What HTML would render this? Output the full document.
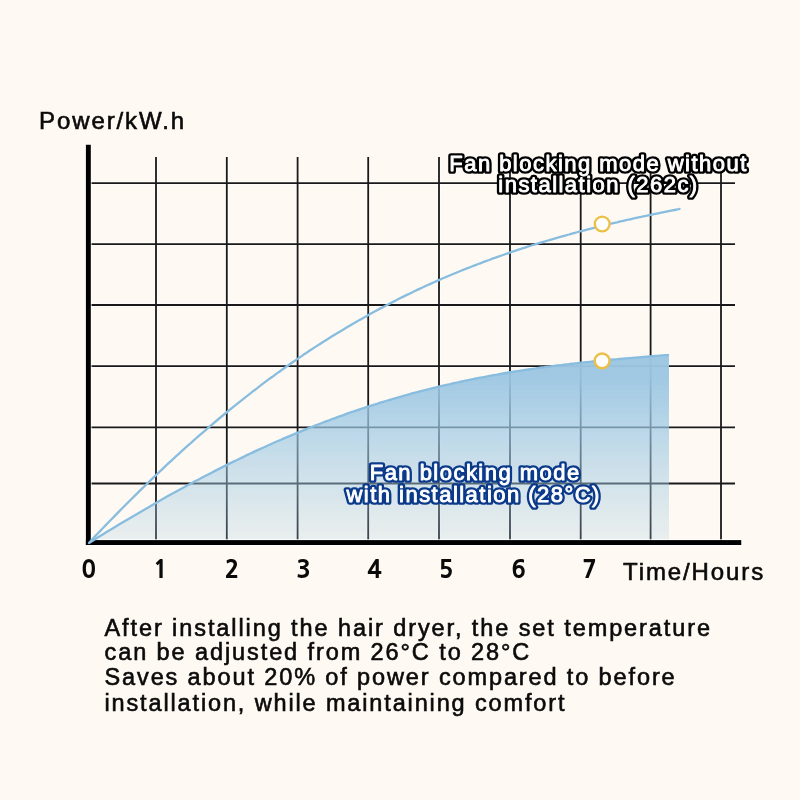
<!DOCTYPE html>
<html><head><meta charset="utf-8">
<style>
html,body{margin:0;padding:0;background:#fef9f2;}
body{width:800px;height:800px;position:relative;overflow:hidden;font-family:"Liberation Sans",Arial,sans-serif;}
svg{position:absolute;left:0;top:0;will-change:transform;}
</style></head>
<body>
<svg width="800" height="800" viewBox="0 0 800 800">
<defs>
<linearGradient id="gf" x1="0" y1="355" x2="0" y2="542" gradientUnits="userSpaceOnUse">
<stop offset="0" stop-color="#9cc6e2" stop-opacity="0.98"/>
<stop offset="0.12" stop-color="#9cc6e2" stop-opacity="0.95"/>
<stop offset="0.4" stop-color="#9cc8e4" stop-opacity="0.7"/>
<stop offset="1" stop-color="#a8cde2" stop-opacity="0.22"/>
</linearGradient>
</defs>
<g stroke="#fff" stroke-opacity="0.7" stroke-width="3.8" fill="none">
<line x1="156.0" y1="157" x2="156.0" y2="542"/>
<line x1="226.8" y1="157" x2="226.8" y2="542"/>
<line x1="297.6" y1="157" x2="297.6" y2="542"/>
<line x1="368.2" y1="157" x2="368.2" y2="542"/>
<line x1="439.0" y1="157" x2="439.0" y2="542"/>
<line x1="510.0" y1="157" x2="510.0" y2="542"/>
<line x1="580.7" y1="157" x2="580.7" y2="542"/>
<line x1="650.6" y1="157" x2="650.6" y2="542"/>
<line x1="721.0" y1="157" x2="721.0" y2="542"/>
<line x1="88" y1="183.1" x2="735" y2="183.1"/>
<line x1="88" y1="244.1" x2="735" y2="244.1"/>
<line x1="88" y1="305.0" x2="735" y2="305.0"/>
<line x1="88" y1="366.2" x2="735" y2="366.2"/>
<line x1="88" y1="427.3" x2="735" y2="427.3"/>
<line x1="88" y1="483.5" x2="735" y2="483.5"/>
</g>
<g stroke="#1a1818" stroke-width="1.8" fill="none">
<line x1="156.0" y1="157" x2="156.0" y2="542"/>
<line x1="226.8" y1="157" x2="226.8" y2="542"/>
<line x1="297.6" y1="157" x2="297.6" y2="542"/>
<line x1="368.2" y1="157" x2="368.2" y2="542"/>
<line x1="439.0" y1="157" x2="439.0" y2="542"/>
<line x1="510.0" y1="157" x2="510.0" y2="542"/>
<line x1="580.7" y1="157" x2="580.7" y2="542"/>
<line x1="650.6" y1="157" x2="650.6" y2="542"/>
<line x1="721.0" y1="157" x2="721.0" y2="542"/>
<line x1="88" y1="183.1" x2="735" y2="183.1"/>
<line x1="88" y1="244.1" x2="735" y2="244.1"/>
<line x1="88" y1="305.0" x2="735" y2="305.0"/>
<line x1="88" y1="366.2" x2="735" y2="366.2"/>
<line x1="88" y1="427.3" x2="735" y2="427.3"/>
<line x1="88" y1="483.5" x2="735" y2="483.5"/>
</g>
<path d="M89.0,543.0 C90.0,542.4 93.0,540.4 95.0,539.2 C97.0,537.9 99.0,536.7 101.0,535.5 C103.0,534.3 105.0,533.0 107.0,531.8 C109.0,530.6 111.0,529.4 113.0,528.2 C115.0,527.0 117.0,525.8 119.0,524.6 C121.0,523.4 123.0,522.2 125.0,521.0 C127.0,519.8 129.0,518.6 131.0,517.4 C133.0,516.2 135.0,515.0 137.0,513.9 C139.0,512.7 141.0,511.5 143.0,510.4 C145.0,509.2 147.0,508.0 149.0,506.9 C151.0,505.7 153.0,504.6 155.0,503.4 C157.0,502.3 159.0,501.2 161.0,500.0 C163.0,498.9 165.0,497.8 167.0,496.6 C169.0,495.5 171.0,494.4 173.0,493.3 C175.0,492.2 177.0,491.1 179.0,490.0 C181.0,488.9 183.0,487.8 185.0,486.7 C187.0,485.6 189.0,484.6 191.0,483.5 C193.0,482.4 195.0,481.3 197.0,480.3 C199.0,479.2 201.0,478.2 203.0,477.1 C205.0,476.1 207.0,475.0 209.0,474.0 C211.0,473.0 213.0,471.9 215.0,470.9 C217.0,469.9 219.0,468.9 221.0,467.9 C223.0,466.9 225.0,465.9 227.0,464.9 C229.0,463.9 231.0,462.9 233.0,461.9 C235.0,460.9 237.0,459.9 239.0,459.0 C241.0,458.0 243.0,457.0 245.0,456.1 C247.0,455.1 249.0,454.2 251.0,453.2 C253.0,452.3 255.0,451.4 257.0,450.4 C259.0,449.5 261.0,448.6 263.0,447.7 C265.0,446.8 267.0,445.9 269.0,445.0 C271.0,444.1 273.0,443.2 275.0,442.3 C277.0,441.4 279.0,440.5 281.0,439.7 C283.0,438.8 285.0,438.0 287.0,437.1 C289.0,436.2 291.0,435.4 293.0,434.6 C295.0,433.7 297.0,432.9 299.0,432.1 C301.0,431.2 303.0,430.4 305.0,429.6 C307.0,428.8 309.0,428.0 311.0,427.2 C313.0,426.4 315.0,425.6 317.0,424.9 C319.0,424.1 321.0,423.3 323.0,422.5 C325.0,421.8 327.0,421.0 329.0,420.3 C331.0,419.5 333.0,418.8 335.0,418.1 C337.0,417.3 339.0,416.6 341.0,415.9 C343.0,415.2 345.0,414.4 347.0,413.7 C349.0,413.0 351.0,412.3 353.0,411.7 C355.0,411.0 357.0,410.3 359.0,409.6 C361.0,408.9 363.0,408.3 365.0,407.6 C367.0,407.0 369.0,406.3 371.0,405.7 C373.0,405.0 375.0,404.4 377.0,403.8 C379.0,403.1 381.0,402.5 383.0,401.9 C385.0,401.3 387.0,400.7 389.0,400.1 C391.0,399.5 393.0,398.9 395.0,398.3 C397.0,397.7 399.0,397.1 401.0,396.6 C403.0,396.0 405.0,395.4 407.0,394.9 C409.0,394.3 411.0,393.8 413.0,393.2 C415.0,392.7 417.0,392.2 419.0,391.6 C421.0,391.1 423.0,390.6 425.0,390.1 C427.0,389.6 429.0,389.1 431.0,388.6 C433.0,388.1 435.0,387.6 437.0,387.1 C439.0,386.6 441.0,386.1 443.0,385.7 C445.0,385.2 447.0,384.7 449.0,384.3 C451.0,383.8 453.0,383.4 455.0,382.9 C457.0,382.5 459.0,382.0 461.0,381.6 C463.0,381.2 465.0,380.8 467.0,380.3 C469.0,379.9 471.0,379.5 473.0,379.1 C475.0,378.7 477.0,378.3 479.0,377.9 C481.0,377.5 483.0,377.1 485.0,376.8 C487.0,376.4 489.0,376.0 491.0,375.6 C493.0,375.3 495.0,374.9 497.0,374.6 C499.0,374.2 501.0,373.8 503.0,373.5 C505.0,373.2 507.0,372.8 509.0,372.5 C511.0,372.2 513.0,371.8 515.0,371.5 C517.0,371.2 519.0,370.9 521.0,370.6 C523.0,370.3 525.0,370.0 527.0,369.7 C529.0,369.4 531.0,369.1 533.0,368.8 C535.0,368.5 537.0,368.2 539.0,367.9 C541.0,367.6 543.0,367.4 545.0,367.1 C547.0,366.8 549.0,366.6 551.0,366.3 C553.0,366.0 555.0,365.8 557.0,365.5 C559.0,365.3 561.0,365.0 563.0,364.8 C565.0,364.6 567.0,364.3 569.0,364.1 C571.0,363.9 573.0,363.6 575.0,363.4 C577.0,363.2 579.0,362.9 581.0,362.7 C583.0,362.5 585.0,362.3 587.0,362.1 C589.0,361.9 591.0,361.7 593.0,361.5 C595.0,361.3 597.0,361.1 599.0,360.9 C601.0,360.7 603.0,360.5 605.0,360.3 C607.0,360.1 609.0,359.9 611.0,359.7 C613.0,359.5 615.0,359.3 617.0,359.2 C619.0,359.0 621.0,358.8 623.0,358.6 C625.0,358.5 627.0,358.3 629.0,358.1 C631.0,357.9 633.0,357.8 635.0,357.6 C637.0,357.4 639.0,357.3 641.0,357.1 C643.0,356.9 645.0,356.8 647.0,356.6 C649.0,356.5 651.0,356.3 653.0,356.1 C655.0,356.0 657.0,355.8 659.0,355.7 C661.0,355.5 663.3,355.3 665.0,355.2 C666.7,355.1 668.3,355.0 669.0,354.9 L669,542 L89,542 Z" fill="url(#gf)"/>
<path d="M84.9,143.75 H91.8 V539.1 H742.25 V546 H84.9 Z" fill="#fff" fill-opacity="0.7"/>
<rect x="85.9" y="144.75" width="4.9" height="400.25" fill="#000"/>
<rect x="85.9" y="540.1" width="655.35" height="4.9" fill="#000"/>
<path d="M89.0,543.0 C90.0,541.9 93.0,538.6 95.0,536.4 C97.0,534.3 99.0,532.2 101.0,530.1 C103.0,528.0 105.0,526.0 107.0,523.9 C109.0,521.8 111.0,519.8 113.0,517.7 C115.0,515.7 117.0,513.6 119.0,511.6 C121.0,509.6 123.0,507.5 125.0,505.5 C127.0,503.5 129.0,501.5 131.0,499.5 C133.0,497.5 135.0,495.5 137.0,493.6 C139.0,491.6 141.0,489.6 143.0,487.7 C145.0,485.7 147.0,483.8 149.0,481.8 C151.0,479.9 153.0,478.0 155.0,476.1 C157.0,474.2 159.0,472.3 161.0,470.4 C163.0,468.5 165.0,466.6 167.0,464.7 C169.0,462.9 171.0,461.0 173.0,459.2 C175.0,457.3 177.0,455.5 179.0,453.7 C181.0,451.8 183.0,450.0 185.0,448.2 C187.0,446.4 189.0,444.6 191.0,442.9 C193.0,441.1 195.0,439.3 197.0,437.5 C199.0,435.8 201.0,434.0 203.0,432.3 C205.0,430.6 207.0,428.9 209.0,427.1 C211.0,425.4 213.0,423.7 215.0,422.0 C217.0,420.3 219.0,418.7 221.0,417.0 C223.0,415.3 225.0,413.7 227.0,412.0 C229.0,410.4 231.0,408.8 233.0,407.1 C235.0,405.5 237.0,403.9 239.0,402.3 C241.0,400.7 243.0,399.1 245.0,397.6 C247.0,396.0 249.0,394.4 251.0,392.9 C253.0,391.3 255.0,389.8 257.0,388.3 C259.0,386.7 261.0,385.2 263.0,383.7 C265.0,382.2 267.0,380.7 269.0,379.2 C271.0,377.7 273.0,376.3 275.0,374.8 C277.0,373.4 279.0,371.9 281.0,370.5 C283.0,369.0 285.0,367.6 287.0,366.2 C289.0,364.8 291.0,363.4 293.0,362.0 C295.0,360.6 297.0,359.2 299.0,357.9 C301.0,356.5 303.0,355.2 305.0,353.8 C307.0,352.5 309.0,351.1 311.0,349.8 C313.0,348.5 315.0,347.2 317.0,345.9 C319.0,344.6 321.0,343.3 323.0,342.0 C325.0,340.8 327.0,339.5 329.0,338.2 C331.0,337.0 333.0,335.8 335.0,334.5 C337.0,333.3 339.0,332.1 341.0,330.9 C343.0,329.7 345.0,328.5 347.0,327.3 C349.0,326.1 351.0,324.9 353.0,323.8 C355.0,322.6 357.0,321.4 359.0,320.3 C361.0,319.1 363.0,318.0 365.0,316.9 C367.0,315.8 369.0,314.7 371.0,313.6 C373.0,312.5 375.0,311.4 377.0,310.3 C379.0,309.2 381.0,308.1 383.0,307.1 C385.0,306.0 387.0,305.0 389.0,303.9 C391.0,302.9 393.0,301.9 395.0,300.9 C397.0,299.8 399.0,298.8 401.0,297.8 C403.0,296.8 405.0,295.9 407.0,294.9 C409.0,293.9 411.0,292.9 413.0,292.0 C415.0,291.0 417.0,290.1 419.0,289.1 C421.0,288.2 423.0,287.3 425.0,286.3 C427.0,285.4 429.0,284.5 431.0,283.6 C433.0,282.7 435.0,281.8 437.0,280.9 C439.0,280.0 441.0,279.2 443.0,278.3 C445.0,277.4 447.0,276.6 449.0,275.7 C451.0,274.9 453.0,274.1 455.0,273.2 C457.0,272.4 459.0,271.6 461.0,270.8 C463.0,270.0 465.0,269.2 467.0,268.4 C469.0,267.6 471.0,266.8 473.0,266.0 C475.0,265.2 477.0,264.5 479.0,263.7 C481.0,262.9 483.0,262.2 485.0,261.4 C487.0,260.7 489.0,260.0 491.0,259.2 C493.0,258.5 495.0,257.8 497.0,257.1 C499.0,256.4 501.0,255.7 503.0,255.0 C505.0,254.3 507.0,253.6 509.0,252.9 C511.0,252.2 513.0,251.5 515.0,250.9 C517.0,250.2 519.0,249.5 521.0,248.9 C523.0,248.2 525.0,247.6 527.0,246.9 C529.0,246.3 531.0,245.7 533.0,245.0 C535.0,244.4 537.0,243.8 539.0,243.2 C541.0,242.6 543.0,242.0 545.0,241.4 C547.0,240.8 549.0,240.2 551.0,239.6 C553.0,239.0 555.0,238.4 557.0,237.8 C559.0,237.3 561.0,236.7 563.0,236.1 C565.0,235.6 567.0,235.0 569.0,234.5 C571.0,233.9 573.0,233.4 575.0,232.8 C577.0,232.3 579.0,231.7 581.0,231.2 C583.0,230.7 585.0,230.2 587.0,229.6 C589.0,229.1 591.0,228.6 593.0,228.1 C595.0,227.6 597.0,227.1 599.0,226.6 C601.0,226.1 603.0,225.6 605.0,225.1 C607.0,224.6 609.0,224.2 611.0,223.7 C613.0,223.2 615.0,222.7 617.0,222.3 C619.0,221.8 621.0,221.3 623.0,220.9 C625.0,220.4 627.0,220.0 629.0,219.5 C631.0,219.1 633.0,218.6 635.0,218.2 C637.0,217.7 639.0,217.3 641.0,216.9 C643.0,216.4 645.0,216.0 647.0,215.6 C649.0,215.1 651.0,214.7 653.0,214.3 C655.0,213.9 657.0,213.5 659.0,213.1 C661.0,212.6 663.0,212.2 665.0,211.8 C667.0,211.4 669.0,211.0 671.0,210.6 C673.0,210.2 675.6,209.7 677.0,209.5 C678.4,209.2 679.1,209.0 679.5,209.0" fill="none" stroke="#88bde0" stroke-width="2.3" stroke-linecap="round"/>
<path d="M89.0,543.0 C90.0,542.4 93.0,540.4 95.0,539.2 C97.0,537.9 99.0,536.7 101.0,535.5 C103.0,534.3 105.0,533.0 107.0,531.8 C109.0,530.6 111.0,529.4 113.0,528.2 C115.0,527.0 117.0,525.8 119.0,524.6 C121.0,523.4 123.0,522.2 125.0,521.0 C127.0,519.8 129.0,518.6 131.0,517.4 C133.0,516.2 135.0,515.0 137.0,513.9 C139.0,512.7 141.0,511.5 143.0,510.4 C145.0,509.2 147.0,508.0 149.0,506.9 C151.0,505.7 153.0,504.6 155.0,503.4 C157.0,502.3 159.0,501.2 161.0,500.0 C163.0,498.9 165.0,497.8 167.0,496.6 C169.0,495.5 171.0,494.4 173.0,493.3 C175.0,492.2 177.0,491.1 179.0,490.0 C181.0,488.9 183.0,487.8 185.0,486.7 C187.0,485.6 189.0,484.6 191.0,483.5 C193.0,482.4 195.0,481.3 197.0,480.3 C199.0,479.2 201.0,478.2 203.0,477.1 C205.0,476.1 207.0,475.0 209.0,474.0 C211.0,473.0 213.0,471.9 215.0,470.9 C217.0,469.9 219.0,468.9 221.0,467.9 C223.0,466.9 225.0,465.9 227.0,464.9 C229.0,463.9 231.0,462.9 233.0,461.9 C235.0,460.9 237.0,459.9 239.0,459.0 C241.0,458.0 243.0,457.0 245.0,456.1 C247.0,455.1 249.0,454.2 251.0,453.2 C253.0,452.3 255.0,451.4 257.0,450.4 C259.0,449.5 261.0,448.6 263.0,447.7 C265.0,446.8 267.0,445.9 269.0,445.0 C271.0,444.1 273.0,443.2 275.0,442.3 C277.0,441.4 279.0,440.5 281.0,439.7 C283.0,438.8 285.0,438.0 287.0,437.1 C289.0,436.2 291.0,435.4 293.0,434.6 C295.0,433.7 297.0,432.9 299.0,432.1 C301.0,431.2 303.0,430.4 305.0,429.6 C307.0,428.8 309.0,428.0 311.0,427.2 C313.0,426.4 315.0,425.6 317.0,424.9 C319.0,424.1 321.0,423.3 323.0,422.5 C325.0,421.8 327.0,421.0 329.0,420.3 C331.0,419.5 333.0,418.8 335.0,418.1 C337.0,417.3 339.0,416.6 341.0,415.9 C343.0,415.2 345.0,414.4 347.0,413.7 C349.0,413.0 351.0,412.3 353.0,411.7 C355.0,411.0 357.0,410.3 359.0,409.6 C361.0,408.9 363.0,408.3 365.0,407.6 C367.0,407.0 369.0,406.3 371.0,405.7 C373.0,405.0 375.0,404.4 377.0,403.8 C379.0,403.1 381.0,402.5 383.0,401.9 C385.0,401.3 387.0,400.7 389.0,400.1 C391.0,399.5 393.0,398.9 395.0,398.3 C397.0,397.7 399.0,397.1 401.0,396.6 C403.0,396.0 405.0,395.4 407.0,394.9 C409.0,394.3 411.0,393.8 413.0,393.2 C415.0,392.7 417.0,392.2 419.0,391.6 C421.0,391.1 423.0,390.6 425.0,390.1 C427.0,389.6 429.0,389.1 431.0,388.6 C433.0,388.1 435.0,387.6 437.0,387.1 C439.0,386.6 441.0,386.1 443.0,385.7 C445.0,385.2 447.0,384.7 449.0,384.3 C451.0,383.8 453.0,383.4 455.0,382.9 C457.0,382.5 459.0,382.0 461.0,381.6 C463.0,381.2 465.0,380.8 467.0,380.3 C469.0,379.9 471.0,379.5 473.0,379.1 C475.0,378.7 477.0,378.3 479.0,377.9 C481.0,377.5 483.0,377.1 485.0,376.8 C487.0,376.4 489.0,376.0 491.0,375.6 C493.0,375.3 495.0,374.9 497.0,374.6 C499.0,374.2 501.0,373.8 503.0,373.5 C505.0,373.2 507.0,372.8 509.0,372.5 C511.0,372.2 513.0,371.8 515.0,371.5 C517.0,371.2 519.0,370.9 521.0,370.6 C523.0,370.3 525.0,370.0 527.0,369.7 C529.0,369.4 531.0,369.1 533.0,368.8 C535.0,368.5 537.0,368.2 539.0,367.9 C541.0,367.6 543.0,367.4 545.0,367.1 C547.0,366.8 549.0,366.6 551.0,366.3 C553.0,366.0 555.0,365.8 557.0,365.5 C559.0,365.3 561.0,365.0 563.0,364.8 C565.0,364.6 567.0,364.3 569.0,364.1 C571.0,363.9 573.0,363.6 575.0,363.4 C577.0,363.2 579.0,362.9 581.0,362.7 C583.0,362.5 585.0,362.3 587.0,362.1 C589.0,361.9 591.0,361.7 593.0,361.5 C595.0,361.3 597.0,361.1 599.0,360.9 C601.0,360.7 603.0,360.5 605.0,360.3 C607.0,360.1 609.0,359.9 611.0,359.7 C613.0,359.5 615.0,359.3 617.0,359.2 C619.0,359.0 621.0,358.8 623.0,358.6 C625.0,358.5 627.0,358.3 629.0,358.1 C631.0,357.9 633.0,357.8 635.0,357.6 C637.0,357.4 639.0,357.3 641.0,357.1 C643.0,356.9 645.0,356.8 647.0,356.6 C649.0,356.5 651.0,356.3 653.0,356.1 C655.0,356.0 657.0,355.8 659.0,355.7 C661.0,355.5 663.3,355.3 665.0,355.2 C666.7,355.1 668.3,355.0 669.0,354.9" fill="none" stroke="#88bde0" stroke-width="2.3"/>
<circle cx="602.2" cy="224" r="7.4" fill="#fff" stroke="#ecbf48" stroke-width="2.4"/>
<circle cx="602.1" cy="360.9" r="7.4" fill="#fff" stroke="#ecbf48" stroke-width="2.4"/>
<g font-family="Liberation Sans, Arial, sans-serif" font-size="22" text-anchor="middle" stroke-linejoin="round">
<text x="598.5" y="170.9" letter-spacing="1.47" stroke="#000" stroke-width="5.70" fill="#fff">Fan blocking mode without</text>
<text x="598.5" y="191.9" letter-spacing="1.47" stroke="#000" stroke-width="5.70" fill="#fff">installation (262c)</text>
<text x="475.2" y="479.5" letter-spacing="1.47" stroke="#0c3a8a" stroke-width="5.70" fill="#fff">Fan blocking mode</text>
<text x="473.7" y="501.5" letter-spacing="1.47" stroke="#0c3a8a" stroke-width="5.70" fill="#fff">with installation (28°C)</text>
<text x="598.5" y="170.9" letter-spacing="1.47" stroke="#fff" stroke-width="0.90" fill="#fff">Fan blocking mode without</text>
<text x="598.5" y="191.9" letter-spacing="1.47" stroke="#fff" stroke-width="0.90" fill="#fff">installation (262c)</text>
<text x="475.2" y="479.5" letter-spacing="1.47" stroke="#fff" stroke-width="0.90" fill="#fff">Fan blocking mode</text>
<text x="473.7" y="501.5" letter-spacing="1.47" stroke="#fff" stroke-width="0.90" fill="#fff">with installation (28°C)</text>
</g>
<g font-family="NanumGothic, Liberation Sans, sans-serif" font-weight="800" font-size="24" fill="#0a0a0a" text-anchor="middle">
<text x="88.5" y="577.8">0</text>
<text x="160.5" y="577.8">1</text>
<text x="231.9" y="577.8">2</text>
<text x="303.6" y="577.8">3</text>
<text x="374.6" y="577.8">4</text>
<text x="446" y="577.8">5</text>
<text x="518.5" y="577.8">6</text>
<text x="589.4" y="577.8">7</text>
</g>
<g font-family="Liberation Sans, Arial, sans-serif" font-size="24" fill="#0a0a0a" stroke="#0a0a0a" stroke-width="0.6">
<text x="39" y="129.1" letter-spacing="1.9">Power/kW.h</text>
<text x="623" y="579.7" letter-spacing="1.9">Time/Hours</text>
</g>
<g font-family="Liberation Sans, Arial, sans-serif" font-size="23.5" fill="#0a0a0a" stroke="#0a0a0a" stroke-width="0.6" letter-spacing="1.91">
<text x="104.5" y="635.9">After installing the hair dryer, the set temperature</text>
<text x="104.5" y="660.2">can be adjusted from 26°C to 28°C</text>
<text x="104.5" y="684.7" letter-spacing="1.88">Saves about 20% of power compared to before</text>
<text x="104.5" y="710.7" letter-spacing="1.86">installation, while maintaining comfort</text>
</g>
</svg>
</body></html>
